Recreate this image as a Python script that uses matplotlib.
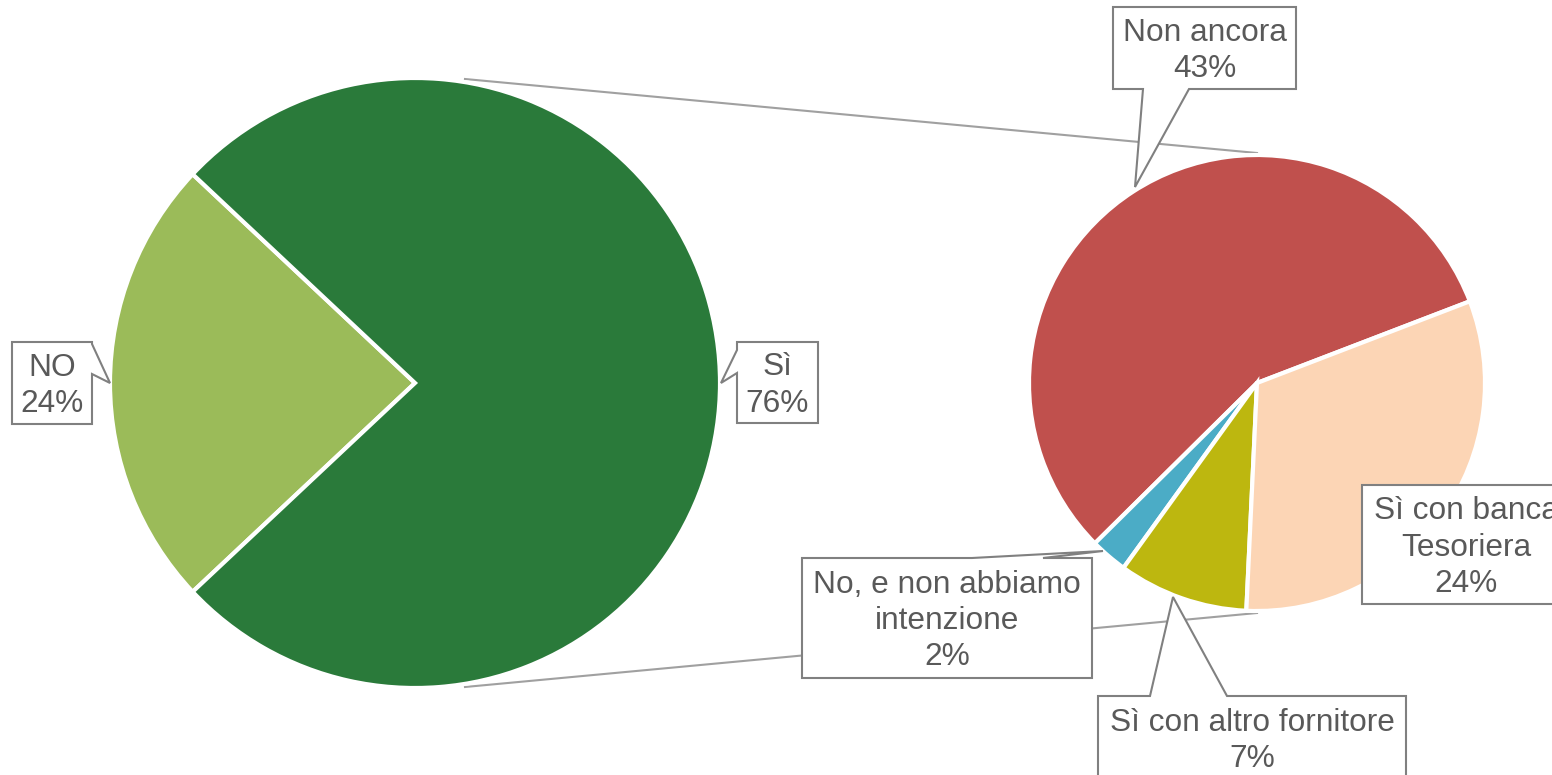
import matplotlib.pyplot as plt
from matplotlib.patches import Polygon

plt.rcParams['font.family'] = ['Liberation Sans', 'DejaVu Sans']

W, H = 1552, 775

# main pie
main_labels = ['NO', 'Sì']
main_values = [24, 76]
main_colors = ['#9bbb59', '#2a7a3a']

# breakdown of "Sì"
sub_labels = ['Non ancora', 'No, e non abbiamo\nintenzione', 'Sì con altro fornitore', 'Sì con banca\nTesoriera']
sub_values = [43, 2, 7, 24]
sub_colors = ['#c0504d', '#4bacc6', '#bdb70f', '#fcd5b5']

TEXT = '#595959'
EDGE = '#808080'


def Y(py):
    return H - py


def callout(ax, text, box, pointer=None):
    # box = (x0, y0, x1, y1) in pixel coords (y down)
    # pointer = (side, a, b, tip) : side in 'top','bottom','left','right'
    x0, y0, x1, y1 = box
    pts = [(x0, y0)]
    if pointer and pointer[0] == 'top':
        _, a, b, tip = pointer
        pts += [(a, y0), tip, (b, y0)]
    pts.append((x1, y0))
    if pointer and pointer[0] == 'right':
        _, a, b, tip = pointer
        pts += [(x1, a), tip, (x1, b)]
    pts.append((x1, y1))
    if pointer and pointer[0] == 'bottom':
        _, a, b, tip = pointer
        pts += [(b, y1), tip, (a, y1)]
    pts.append((x0, y1))
    if pointer and pointer[0] == 'left':
        _, a, b, tip = pointer
        pts += [(x0, b), tip, (x0, a)]
    poly = Polygon([(x, Y(y)) for x, y in pts], closed=True, facecolor='white',
                   edgecolor=EDGE, linewidth=1.5, zorder=5, clip_on=False)
    ax.add_patch(poly)
    cx = (x0 + x1) / 2
    cy = (y0 + y1) / 2 + 3
    ax.text(cx, Y(cy), text, ha='center', va='center', fontsize=22.8, color=TEXT,
            linespacing=1.27, zorder=6)


fig = plt.figure(figsize=(W / 100, H / 100), dpi=100)
ax = fig.add_axes([0, 0, 1, 1])

# connector lines
ax.plot([465, 1257], [Y(79), Y(153)], color='#a0a0a0', linewidth=1.5, zorder=1)
ax.plot([465, 1257], [Y(687), Y(613)], color='#a0a0a0', linewidth=1.5, zorder=1)

no_angle = main_values[0] / 100 * 360
ax.pie(main_values, colors=main_colors, center=(415, Y(383)), radius=305,
       startangle=180 - no_angle / 2, counterclock=True,
       wedgeprops=dict(edgecolor='white', linewidth=3), frame=True)

ax.pie(sub_values, colors=sub_colors, center=(1257, Y(383)), radius=228,
       startangle=21, counterclock=True,
       wedgeprops=dict(edgecolor='white', linewidth=3), frame=True)

ax.set_xlim(0, W)
ax.set_ylim(0, H)
ax.set_aspect('equal')
ax.axis('off')

lab = lambda l, v: f'{l}\n{v}%'

callout(ax, lab(main_labels[0], main_values[0]), (12, 342, 92, 424),
        ('right', 344, 374, (110, 383)))
callout(ax, lab(main_labels[1], main_values[1]), (737, 342, 818, 423),
        ('left', 350, 373, (721, 383)))
callout(ax, lab(sub_labels[0], sub_values[0]), (1113, 7, 1296, 89),
        ('bottom', 1143, 1189, (1135, 187)))
callout(ax, lab(sub_labels[1], sub_values[1]), (802, 558, 1092, 678),
        ('top', 972, 1043, (1103, 551)))
callout(ax, lab(sub_labels[2], sub_values[2]), (1098, 696, 1406, 780),
        ('top', 1150, 1227, (1173, 597)))
callout(ax, lab(sub_labels[3], sub_values[3]), (1362, 485, 1570, 604))

fig.savefig('out.png', dpi=100)
